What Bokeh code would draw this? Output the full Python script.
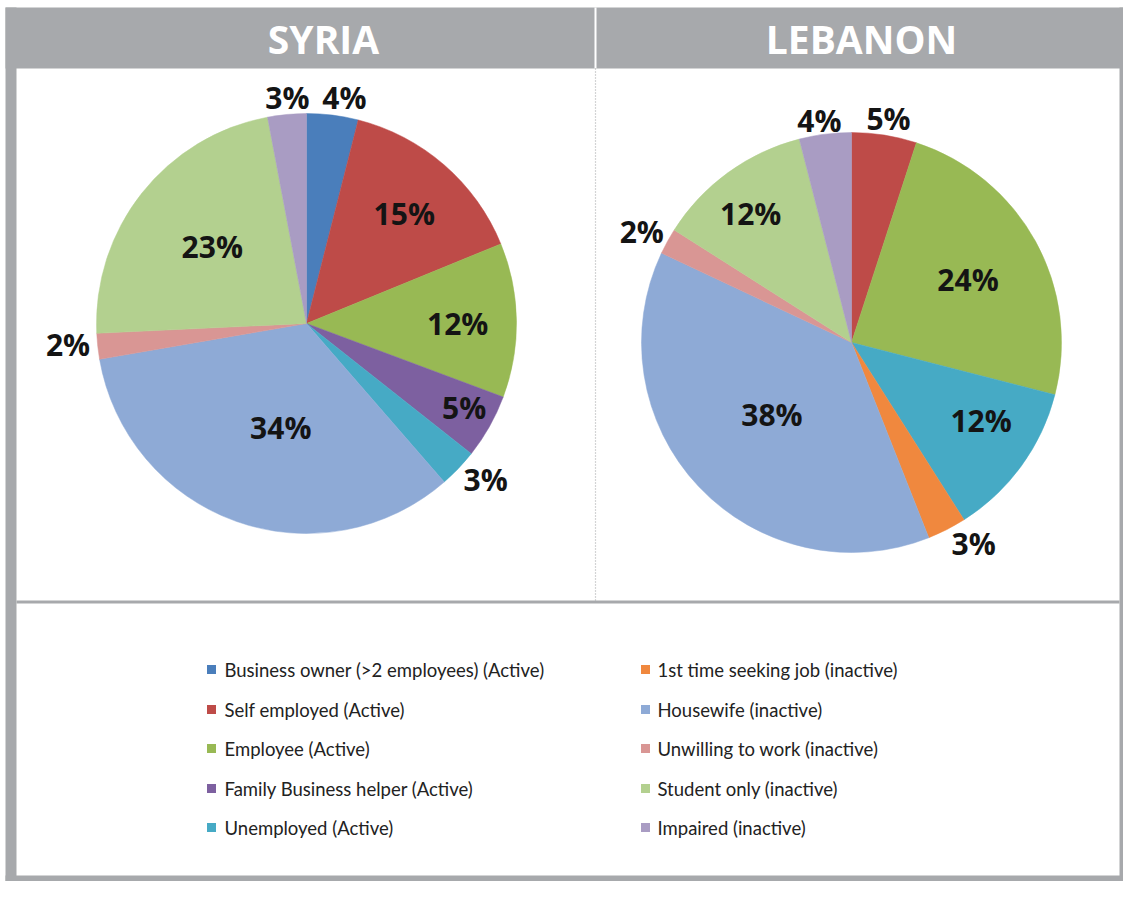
import numpy as np
from bokeh.plotting import figure
from bokeh.models import Range1d, ColumnDataSource
from bokeh.core.properties import value
from bokeh.embed import file_html
from bokeh.resources import INLINE

# ---------------- data ----------------
categories = [
    "Business owner (>2 employees) (Active)",
    "Self employed (Active)",
    "Employee (Active)",
    "Family Business helper (Active)",
    "Unemployed (Active)",
    "1st time seeking job (inactive)",
    "Housewife (inactive)",
    "Unwilling to work (inactive)",
    "Student only (inactive)",
    "Impaired (inactive)",
]
syria = [4, 15, 12, 5, 3, 0, 34, 2, 23, 3]
lebanon = [0, 5, 24, 0, 12, 3, 38, 2, 12, 4]
countries = ["SYRIA", "LEBANON"]

# ---------------- styles ----------------
colors = ["#4a7ebb", "#be4b48", "#98b954", "#7d60a0", "#46aac5",
          "#f0883e", "#8eaad6", "#d99694", "#b3d08f", "#a99cc3"]
GRAY = "#a7a9ac"
W, H = 1123, 881


def X(rx):  # reference pixel x -> data x
    return rx


def Y(ry):  # reference pixel y -> data y
    return H - ry


p = figure(width=W, height=H, x_range=Range1d(0, W), y_range=Range1d(0, H),
           output_backend="svg", toolbar_location=None,
           x_axis_type=None, y_axis_type=None, min_border=0,
           outline_line_color=None, background_fill_color="white",
           border_fill_color="white")
p.grid.visible = False

# frame
p.quad(left=[5, 5, 1119, 5], right=[16, W, W, W],
       bottom=[0, Y(68), 0, 0], top=[Y(7), Y(7), Y(7), 6],
       fill_color=GRAY, line_color=None)
# white separator in header
p.quad(left=[X(594)], right=[X(596)], bottom=[Y(68)], top=[Y(7)],
       fill_color="white", line_color=None)
# dotted vertical separator
p.segment(x0=[X(595)], y0=[Y(68)], x1=[X(595)], y1=[Y(600)],
          line_color=GRAY, line_width=1.2, line_dash="1 2")
# horizontal separator
p.quad(left=[16], right=[1119], bottom=[Y(603)], top=[Y(600)],
       fill_color=GRAY, line_color=None)

# headers
p.text(x=[X(323), X(861)], y=[Y(38), Y(38)], text=countries,
       text_font=value("Open Sans"), text_font_style="bold",
       text_font_size="39px", text_color="white",
       text_align="center", text_baseline="middle")

# pies
centers = [(X(306), Y(323)), (X(851), Y(342))]
R = 210
# label placement: radius factor and angular offset (degrees) per slice
label_rf = [
    [1.09, 0.70, 0.72, 0.85, 1.13, None, 0.51, 1.14, 0.58, 1.08],
    [None, 1.08, 0.63, None, 0.72, 1.12, 0.51, 1.13, 0.78, 1.07],
]
label_da = [
    [2.4, 0.7, 0.9, -1.4, -2.7, 0, -5.7, 1.2, 1.0, 0.5],
    [0, 0.4, 0.5, 0, -5.0, -4.3, 1.2, -0.9, -2.0, -1.0],
]
for (cx, cy), vals, rfs, das in zip(centers, [syria, lebanon], label_rf, label_da):
    v = np.array(vals, dtype=float)
    frac = v / v.sum()
    cum_end = np.cumsum(frac)
    cum_start = cum_end - frac
    keep = v > 0
    starts = np.pi / 2 - 2 * np.pi * cum_start
    ends = np.pi / 2 - 2 * np.pi * cum_end
    src = ColumnDataSource(dict(
        start=starts[keep], end=ends[keep],
        color=[c for c, k in zip(colors, keep) if k]))
    p.wedge(x=cx, y=cy, radius=R, start_angle="start", end_angle="end",
            direction="clock", fill_color="color", line_color="color",
            line_width=0.5, source=src)
    mids = 2 * np.pi * (cum_start + cum_end) / 2
    lx, ly, lt = [], [], []
    for i in range(len(v)):
        if not keep[i]:
            continue
        r = rfs[i] * R
        a = mids[i] + np.radians(das[i])
        lx.append(cx + r * np.sin(a))
        ly.append(cy + r * np.cos(a))
        lt.append(f"{int(vals[i])}%")
    p.text(x=lx, y=ly, text=lt, text_font=value("Open Sans"),
           text_font_style="bold", text_font_size="30px",
           text_color="#141414", text_align="center",
           text_baseline="middle")

# legend
row_y = [Y(669), Y(709), Y(748), Y(788), Y(827)]
sq_x = [X(211), X(645)]
tx_x = [X(224), X(657)]
for col in range(2):
    idx = list(range(col * 5, col * 5 + 5))
    p.rect(x=[sq_x[col]] * 5, y=row_y, width=9, height=9,
           fill_color=[colors[i] for i in idx], line_color=None)
    p.text(x=[tx_x[col]] * 5, y=row_y, text=[categories[i] for i in idx],
           text_font=value("Lato"), text_font_size="18.5px",
           text_color="#222222", text_align="left", text_baseline="middle")

open("out.html", "w").write(file_html(p, INLINE))
